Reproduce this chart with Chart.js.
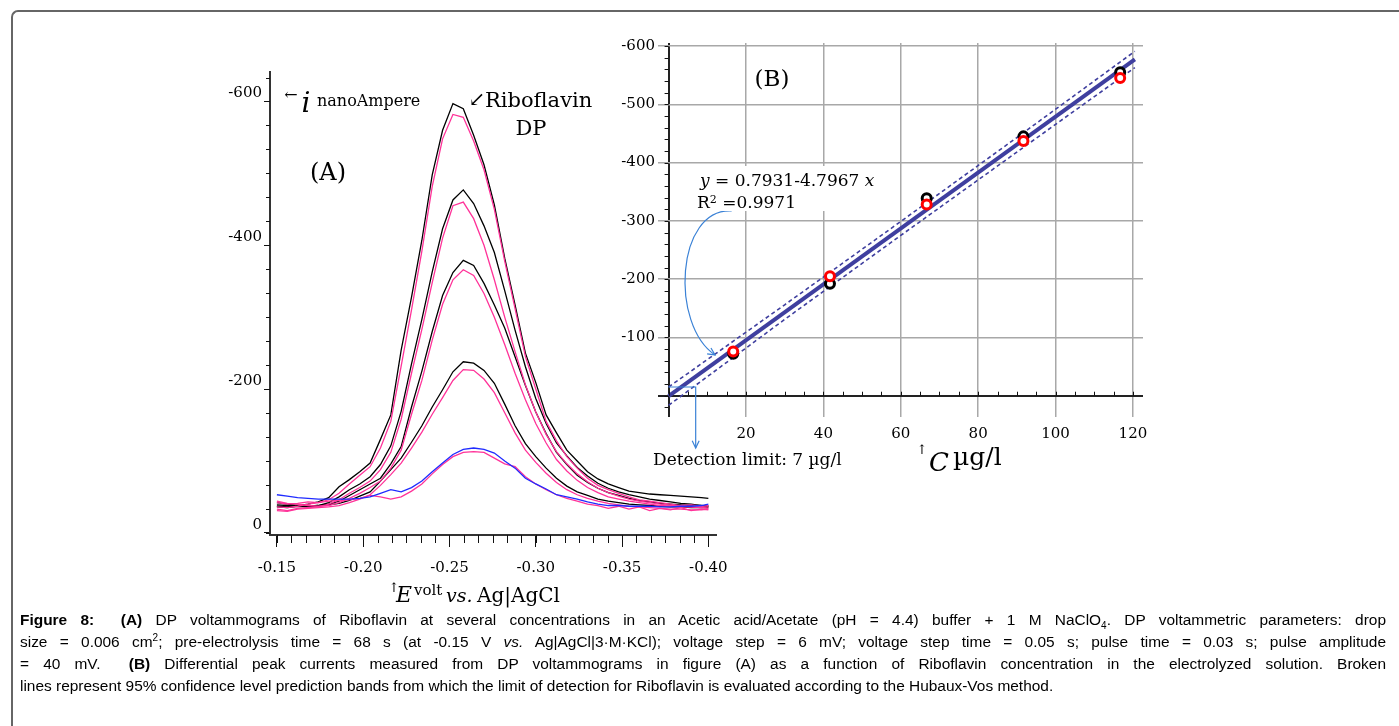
<!DOCTYPE html>
<html>
<head>
<meta charset="utf-8">
<script src="https://cdn.jsdelivr.net/npm/chart.js@4.4.0/dist/chart.umd.min.js"></script>
<style>
body { margin: 0; background: #fff; width: 1399px; height: 726px; overflow: hidden; position: relative; font-family: 'DejaVu Serif', serif; }
.frame { position: absolute; left: 11px; top: 10px; width: 1400px; height: 730px; border-left: 2px solid #666; border-top: 2px solid #666; border-top-left-radius: 7px; }
canvas { position: absolute; }
#chartA { left: 200px; top: 50px; }
#chartB { left: 600px; top: 20px; }
.t { position: absolute; white-space: nowrap; line-height: 1; color: #000; }
.c { transform: translate(-50%, -50%); }
.m { transform: translateY(-50%); }
.box { position: absolute; background: #fff; }
.cap { position: absolute; left: 20px; top: 609px; width: 1366px; font-family: 'Liberation Sans', Arial, sans-serif; font-size: 15.45px; line-height: 22px; color: #000; }
.cap div { white-space: nowrap; height: 22px; }
.cap .j { text-align: justify; text-align-last: justify; white-space: normal; }
.cap sub, .cap sup { font-size: 10px; line-height: 0; }
</style>
</head>
<body>
<div class="frame"></div>
<canvas id="chartA" width="540" height="570"></canvas>
<canvas id="chartB" width="600" height="470"></canvas>

<!-- panel A labels -->
<div class="t c" style="left:291px;top:95px;font-size:16px">←</div>
<div class="t c" style="left:306px;top:103px;font-size:28px;font-style:italic">i</div>
<div class="t m" style="left:317px;top:101px;font-size:16px">nanoAmpere</div>
<div class="t c" style="left:477px;top:99px;font-size:20px">↙</div>
<div class="t m" style="left:485px;top:100px;font-size:21px">Riboflavin</div>
<div class="t c" style="left:531px;top:128px;font-size:21px">DP</div>
<div class="t c" style="left:328px;top:172px;font-size:24px">(A)</div>
<div class="t c" style="left:394px;top:587px;font-size:13px">↑</div>
<div class="t c" style="left:404px;top:595px;font-size:22px;font-style:italic">E</div>
<div class="t m" style="left:414px;top:590px;font-size:15px">volt</div>
<div class="t m" style="left:446px;top:595px;font-size:19px;font-style:italic">vs.</div>
<div class="t m" style="left:477px;top:595px;font-size:20px">Ag|AgCl</div>

<!-- panel B labels -->
<div class="t c" style="left:772px;top:78px;font-size:23px">(B)</div>
<div class="box" style="left:692px;top:166px;width:136px;height:45px"></div>
<div class="t m" style="left:700px;top:180px;font-size:17px"><i>y</i> = 0.7931-4.7967 <i>x</i></div>
<div class="t m" style="left:697px;top:202px;font-size:17px">R<span style="font-size:11px;vertical-align:5px">2</span> =0.9971</div>
<div class="t m" style="left:653px;top:459px;font-size:17px">Detection limit: 7 µg/l</div>
<div class="t c" style="left:922px;top:449px;font-size:13px">↑</div>
<div class="t c" style="left:939px;top:462px;font-size:26px;font-style:italic">C</div>
<div class="t m" style="left:953px;top:456px;font-size:25px">µg/l</div>

<div class="cap">
  <div class="j"><b>Figure 8:</b>&nbsp; <b>(A)</b> DP voltammograms of Riboflavin at several concentrations in an Acetic acid/Acetate (pH = 4.4) buffer + 1 M NaClO<sub>4</sub>. DP voltammetric parameters: drop</div>
  <div class="j">size = 0.006 cm<sup>2</sup>; pre-electrolysis time = 68 s (at -0.15 V <i>vs.</i> Ag|AgCl|3·M·KCl); voltage step = 6 mV; voltage step time = 0.05 s; pulse time = 0.03 s; pulse amplitude</div>
  <div class="j">= 40 mV.&nbsp; <b>(B)</b> Differential peak currents measured from DP voltammograms in figure (A) as a function of Riboflavin concentration in the electrolyzed solution. Broken</div>
  <div>lines represent 95% confidence level prediction bands from which the limit of detection for Riboflavin is evaluated according to the Hubaux-Vos method.</div>
</div>

<script>
// ---- panel A: DP voltammograms (potential in V, current in nA) ----
var potentials = [-0.150, -0.156, -0.162, -0.168, -0.174, -0.180, -0.186, -0.192, -0.198, -0.204,
  -0.210, -0.216, -0.222, -0.228, -0.234, -0.240, -0.246, -0.252, -0.258, -0.264,
  -0.270, -0.276, -0.282, -0.288, -0.294, -0.300, -0.306, -0.312, -0.318, -0.324,
  -0.330, -0.336, -0.342, -0.348, -0.354, -0.360, -0.366, -0.372, -0.378, -0.384,
  -0.390, -0.396, -0.400];

var black1 = [-39,-38,-38,-40,-43,-49,-64,-74,-85,-97,-130,-164,-254,-328,-407,-498,-560,-597,-590,-553,-512,-456,-382,-317,-250,-209,-164,-139,-115,-100,-85,-75,-68,-63,-58,-56,-54,-53,-52,-51,-50,-49,-48];
var pink1  = [-36,-35,-37,-40,-42,-46,-55,-68,-80,-92,-118,-155,-232,-310,-392,-482,-548,-582,-578,-545,-505,-450,-378,-312,-245,-200,-155,-128,-106,-90,-76,-66,-60,-55,-50,-46,-44,-42,-40,-38,-39,-37,-38];
var black2 = [-37,-36,-38,-37,-38,-42,-50,-60,-68,-78,-95,-121,-169,-235,-297,-363,-423,-463,-477,-458,-427,-390,-337,-282,-231,-187,-152,-125,-107,-91,-79,-69,-62,-57,-53,-50,-47,-45,-43,-41,-40,-38,-37];
var pink2  = [-33,-31,-34,-35,-36,-40,-46,-55,-63,-72,-88,-112,-158,-222,-283,-348,-410,-455,-460,-437,-400,-352,-300,-252,-206,-168,-137,-113,-96,-82,-71,-62,-56,-51,-47,-44,-42,-40,-38,-37,-36,-35,-34];
var black3 = [-42,-40,-38,-37,-38,-40,-44,-52,-60,-68,-76,-96,-120,-175,-225,-280,-330,-362,-379,-372,-347,-317,-285,-245,-205,-168,-138,-112,-95,-80,-70,-62,-56,-52,-48,-45,-43,-41,-40,-39,-38,-38,-37];
var pink3  = [-44,-41,-40,-38,-37,-38,-42,-48,-55,-63,-72,-90,-115,-165,-212,-268,-318,-352,-366,-358,-333,-300,-262,-222,-185,-152,-125,-102,-86,-73,-63,-56,-50,-47,-44,-42,-40,-38,-37,-36,-36,-35,-36];
var black4 = [-36,-35,-37,-36,-38,-39,-41,-45,-51,-57,-72,-88,-104,-126,-149,-175,-199,-224,-238,-236,-226,-208,-179,-149,-124,-106,-90,-76,-65,-57,-52,-47,-44,-42,-40,-39,-38,-37,-36,-36,-35,-35,-35];
var pink4  = [-31,-30,-33,-34,-35,-36,-38,-42,-47,-53,-66,-81,-97,-118,-140,-165,-188,-212,-227,-226,-214,-195,-167,-139,-115,-98,-83,-70,-60,-53,-48,-44,-41,-39,-37,-36,-35,-34,-33,-33,-32,-32,-33];
var blue5  = [-53,-51,-49,-48,-47,-47,-47,-47,-48,-50,-55,-60,-57,-63,-72,-85,-97,-109,-116,-118,-116,-111,-100,-90,-76,-68,-61,-53,-50,-47,-43,-40,-38,-38,-37,-37,-37,-36,-36,-37,-37,-38,-40];
var pink5  = [-42,-40,-41,-43,-42,-44,-45,-46,-48,-52,-50,-47,-50,-58,-68,-82,-95,-106,-112,-113,-112,-104,-96,-92,-78,-68,-60,-53,-48,-44,-40,-38,-34,-37,-33,-36,-31,-34,-32,-35,-31,-33,-32];

var potentialTicks = [-0.15, -0.20, -0.25, -0.30, -0.35, -0.40];
var currentTicksA = [-600, -400, -200, 0];

// ---- panel B: calibration ----
var concentrations = [16.7, 41.7, 66.7, 91.7, 116.7];
var peakBlack = [-72, -192, -339, -445, -555];
var peakRed   = [-76, -205, -328, -437, -545];
var fitX = [0, 120.5];
var fitY = [0.8, -577];
var bandX = [0, 30, 60, 90, 120.5];
var bandUpper = [-15, -156, -299, -443, -591];
var bandLower = [16.5, -131, -275, -418, -563];
var detectionLimit = 7;
var criticalLevel = -15;
var concTicks = [0, 20, 40, 60, 80, 100, 120];
var currentTicksB = [-600, -500, -400, -300, -200, -100, 0];

Chart.defaults.font.family = "'DejaVu Serif', serif";
Chart.defaults.color = '#000';

function pts(xs, ys) { return ys.map(function (v, i) { return { x: xs[i], y: v }; }); }
function range(a, b, step) { var out = []; var n = Math.round((b - a) / step); for (var i = 0; i <= n; i++) out.push(a + i * step); return out; }

var minorTicks = {
    id: 'minorTicks',
    afterDraw: function (chart, args, opts) {
        var ctx = chart.ctx;
        ctx.save();
        ctx.strokeStyle = '#111';
        ctx.lineWidth = 1;
        (opts.marks || []).forEach(function (m) {
            var s = chart.scales[m.scale];
            m.values.forEach(function (v) {
                ctx.beginPath();
                if (s.isHorizontal()) {
                    var px = Math.round(s.getPixelForValue(v)) + 0.5;
                    var py = m.cross ? chart.scales[m.cross].getPixelForValue(m.at) : s.top;
                    ctx.moveTo(px, py); ctx.lineTo(px, py + m.len);
                } else {
                    var py2 = Math.round(s.getPixelForValue(v)) + 0.5;
                    var px2 = m.cross ? chart.scales[m.cross].getPixelForValue(m.at) : s.right;
                    ctx.moveTo(px2, py2); ctx.lineTo(px2 + m.len, py2);
                }
                ctx.stroke();
            });
        });
        ctx.restore();
    }
};

function arrowHead(ctx, x, y, ang) {
    var L = 8, a = 0.45;
    ctx.beginPath();
    ctx.moveTo(x - L * Math.cos(ang - a), y - L * Math.sin(ang - a));
    ctx.lineTo(x, y);
    ctx.lineTo(x - L * Math.cos(ang + a), y - L * Math.sin(ang + a));
    ctx.stroke();
}

var lodMarks = {
    id: 'lodMarks',
    afterDraw: function (chart) {
        var ctx = chart.ctx, x = chart.scales.x, y = chart.scales.y;
        ctx.save();
        ctx.strokeStyle = '#3b82d6';
        ctx.lineWidth = 1.2;
        var x0 = x.getPixelForValue(0), xl = x.getPixelForValue(detectionLimit), yc = y.getPixelForValue(criticalLevel);
        var yb = chart.chartArea.bottom + 31;
        ctx.beginPath(); ctx.moveTo(x0, yc); ctx.lineTo(xl, yc); ctx.lineTo(xl, yb); ctx.stroke();
        arrowHead(ctx, xl, yb, Math.PI / 2);
        // curved pointer from the equation to the low end of the fit
        var sx = x.getPixelForValue(16.3), sy = y.getPixelForValue(-317);
        var ex = x.getPixelForValue(12), ey = y.getPixelForValue(-70);
        ctx.beginPath();
        ctx.moveTo(sx, sy);
        ctx.bezierCurveTo(sx - 56, sy - 3, ex - 45, ey - 30, ex, ey);
        ctx.stroke();
        arrowHead(ctx, ex, ey, Math.atan2(30, 45));
        ctx.restore();
    }
};

function curve(data, color) {
    return { data: pts(potentials, data), borderColor: color, borderWidth: 1.3, pointRadius: 0, tension: 0, fill: false };
}

new Chart(document.getElementById('chartA'), {
    type: 'line',
    data: {
        datasets: [
            curve(blue5, '#1f2bff'),
            curve(pink1, '#ff3399'), curve(pink2, '#ff3399'), curve(pink3, '#ff3399'), curve(pink4, '#ff3399'), curve(pink5, '#ff3399'),
            curve(black1, '#000'), curve(black2, '#000'), curve(black3, '#000'), curve(black4, '#000')
        ]
    },
    options: {
        responsive: false,
        devicePixelRatio: 1,
        animation: false,
        layout: { padding: { top: 22, right: 23, left: 0, bottom: 35 } },
        plugins: {
            legend: { display: false },
            tooltip: { enabled: false },
            minorTicks: {
                marks: [
                    { scale: 'x', values: range(-0.40, -0.15, 0.05 / 6), len: 8 },
                    { scale: 'y', values: range(-633.33, 0, 200 / 6), len: -4 }
                ]
            }
        },
        scales: {
            x: {
                type: 'linear', reverse: true, min: -0.4046, max: -0.1460,
                afterBuildTicks: function (s) { s.ticks = potentialTicks.map(function (v) { return { value: v }; }); },
                afterFit: function (s) { s.height = 50; },
                ticks: { autoSkip: false, maxRotation: 0, padding: 12, font: { size: 15 }, callback: function (v) { return v.toFixed(2); } },
                grid: { drawOnChartArea: false, drawTicks: true, tickLength: 12, color: '#111', lineWidth: 1 },
                border: { color: '#333', width: 2 }
            },
            y: {
                type: 'linear', reverse: true, min: -641, max: 3,
                afterBuildTicks: function (s) { s.ticks = currentTicksA.map(function (v) { return { value: v }; }); },
                afterFit: function (s) { s.width = 70; },
                ticks: { autoSkip: false, padding: 2, labelOffset: -8, font: { size: 15 }, callback: function (v) { return String(v); } },
                grid: { drawOnChartArea: false, drawTicks: true, tickLength: 6, color: '#111', lineWidth: 1 },
                border: { color: '#333', width: 2 }
            }
        }
    },
    plugins: [minorTicks]
});

var bandColor = '#3f3f9f';
new Chart(document.getElementById('chartB'), {
    type: 'line',
    data: {
        datasets: [
            { data: pts(concentrations, peakRed), showLine: false, pointRadius: 4.5, pointBorderWidth: 3, pointBorderColor: '#ff0000', pointBackgroundColor: '#fff' },
            { data: pts(concentrations, peakBlack), showLine: false, pointRadius: 4.5, pointBorderWidth: 3, pointBorderColor: '#000', pointBackgroundColor: '#fff' },
            { data: pts(fitX, fitY), borderColor: bandColor, borderWidth: 4, pointRadius: 0, tension: 0 },
            { data: pts(bandX, bandUpper), borderColor: bandColor, borderWidth: 1.6, borderDash: [4, 3], pointRadius: 0, tension: 0 },
            { data: pts(bandX, bandLower), borderColor: bandColor, borderWidth: 1.6, borderDash: [4, 3], pointRadius: 0, tension: 0 }
        ]
    },
    options: {
        responsive: false,
        devicePixelRatio: 1,
        animation: false,
        layout: { padding: { top: 23, right: 57, left: 0, bottom: 43 } },
        plugins: {
            legend: { display: false },
            tooltip: { enabled: false },
            minorTicks: {
                marks: [
                    { scale: 'x', values: range(0, 120, 5), len: -4, cross: 'y', at: 0 },
                    { scale: 'y', values: range(-600, 20, 20), len: -4, cross: 'x', at: 0 }
                ]
            }
        },
        scales: {
            x: {
                type: 'linear', min: -2.74, max: 122.6,
                afterBuildTicks: function (s) { s.ticks = concTicks.map(function (v) { return { value: v }; }); },
                afterFit: function (s) { s.height = 30; },
                ticks: { autoSkip: false, maxRotation: 0, padding: 8, font: { size: 15 }, callback: function (v) { return v === 0 ? '' : String(v); } },
                grid: {
                    drawTicks: false,
                    color: function (c) { return c.tick && c.tick.value === 0 ? '#222' : '#a8a8a8'; },
                    lineWidth: function (c) { return c.tick && c.tick.value === 0 ? 2 : 1.5; }
                },
                border: { display: false }
            },
            y: {
                type: 'linear', reverse: true, min: -605.2, max: 36.5,
                afterBuildTicks: function (s) { s.ticks = currentTicksB.map(function (v) { return { value: v }; }); },
                afterFit: function (s) { s.width = 58; },
                ticks: { autoSkip: false, padding: 3, font: { size: 15 }, callback: function (v) { return v === 0 ? '' : String(v); } },
                grid: {
                    drawTicks: false,
                    color: function (c) { return c.tick && c.tick.value === 0 ? '#222' : '#a8a8a8'; },
                    lineWidth: function (c) { return c.tick && c.tick.value === 0 ? 2 : 1.5; }
                },
                border: { display: false }
            }
        }
    },
    plugins: [minorTicks, lodMarks]
});
</script>
</body>
</html>
